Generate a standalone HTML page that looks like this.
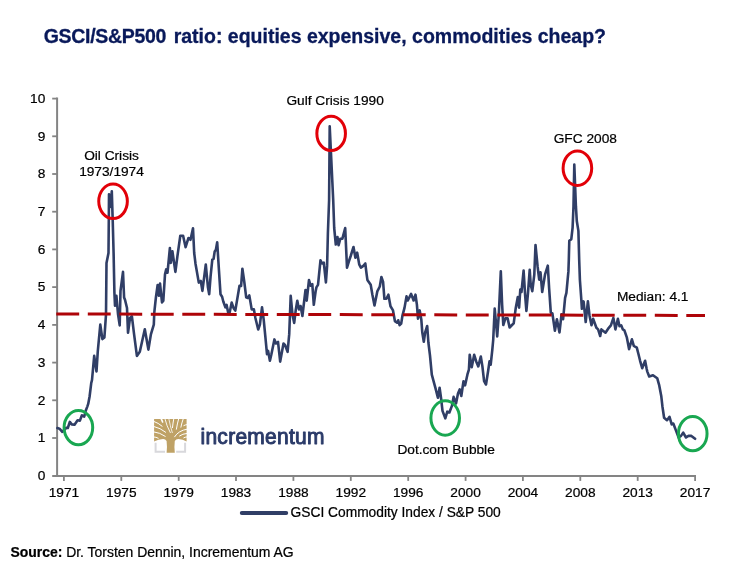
<!DOCTYPE html>
<html lang="en"><head><meta charset="utf-8">
<title>GSCI/S&amp;P500 ratio: equities expensive, commodities cheap?</title>
<style>
html,body{margin:0;padding:0;background:#fff;}
body{width:731px;height:576px;overflow:hidden;position:relative;font-family:"Liberation Sans", Arial, sans-serif;}
svg{position:absolute;left:0;top:0;display:block;}
text{font-family:"Liberation Sans", Arial, sans-serif;}
.lbl{font-size:13.7px;fill:#000;stroke:#000;stroke-width:0.22px;stroke-linejoin:round;}
</style></head><body>
<svg width="731" height="576" viewBox="0 0 731 576">
<rect width="731" height="576" fill="#ffffff"/>
<text x="43.7" y="43" font-size="19.5" font-weight="bold" fill="#09195a" stroke="#09195a" stroke-width="0.3"><tspan letter-spacing="-0.3">GSCI/S&amp;P500</tspan><tspan dx="2.1"> ratio: equities expensive, commodities cheap?</tspan></text>
<g stroke="#848484" stroke-width="2" fill="none">
<path d="M57.1 97.6 V476.9"/>
<path d="M52.2 475.9 H696"/>
<path d="M52.2 438.0 H57.1" stroke-width="1.8"/>
<path d="M52.2 400.3 H57.1" stroke-width="1.8"/>
<path d="M52.2 362.6 H57.1" stroke-width="1.8"/>
<path d="M52.2 324.9 H57.1" stroke-width="1.8"/>
<path d="M52.2 287.1 H57.1" stroke-width="1.8"/>
<path d="M52.2 249.4 H57.1" stroke-width="1.8"/>
<path d="M52.2 211.7 H57.1" stroke-width="1.8"/>
<path d="M52.2 174.0 H57.1" stroke-width="1.8"/>
<path d="M52.2 136.3 H57.1" stroke-width="1.8"/>
<path d="M52.2 98.6 H57.1" stroke-width="1.8"/>
<path d="M63.9 475.8 V480.9" stroke-width="1.8"/>
<path d="M121.3 475.8 V480.9" stroke-width="1.8"/>
<path d="M178.7 475.8 V480.9" stroke-width="1.8"/>
<path d="M236.0 475.8 V480.9" stroke-width="1.8"/>
<path d="M293.4 475.8 V480.9" stroke-width="1.8"/>
<path d="M350.8 475.8 V480.9" stroke-width="1.8"/>
<path d="M408.2 475.8 V480.9" stroke-width="1.8"/>
<path d="M465.6 475.8 V480.9" stroke-width="1.8"/>
<path d="M522.9 475.8 V480.9" stroke-width="1.8"/>
<path d="M580.3 475.8 V480.9" stroke-width="1.8"/>
<path d="M637.7 475.8 V480.9" stroke-width="1.8"/>
<path d="M695.1 475.8 V480.9" stroke-width="1.8"/>
</g>
<g class="lbl" text-anchor="end">
<text x="45.3" y="480.1">0</text>
<text x="45.3" y="442.3">1</text>
<text x="45.3" y="404.6">2</text>
<text x="45.3" y="366.9">3</text>
<text x="45.3" y="329.2">4</text>
<text x="45.3" y="291.4">5</text>
<text x="45.3" y="253.7">6</text>
<text x="45.3" y="216.0">7</text>
<text x="45.3" y="178.3">8</text>
<text x="45.3" y="140.6">9</text>
<text x="45.3" y="102.9">10</text>
</g>
<g class="lbl" text-anchor="middle">
<text x="63.9" y="496.8">1971</text>
<text x="121.3" y="496.8">1975</text>
<text x="178.7" y="496.8">1979</text>
<text x="236.0" y="496.8">1983</text>
<text x="293.4" y="496.8">1988</text>
<text x="350.8" y="496.8">1992</text>
<text x="408.2" y="496.8">1996</text>
<text x="465.6" y="496.8">2000</text>
<text x="522.9" y="496.8">2004</text>
<text x="580.3" y="496.8">2008</text>
<text x="637.7" y="496.8">2013</text>
<text x="695.1" y="496.8">2017</text>
</g>
<g id="logo">
<g fill="none" stroke="#d8d8dc" stroke-width="2"><path d="M155.6 442.8 V451.7 H165"/><path d="M185.1 442.8 V451.7 H176.2"/></g>
<path fill="#bfa266" d="M154.1 419 H186.6 V441.5 Q183 439.4 178.3 439.1 Q176 439.3 174.8 440.9 Q174.1 446 174.8 452.7 H166.6 Q167.3 446 166.6 440.9 Q165.4 439.3 163.1 439.1 Q158.4 439.4 154.1 441.5 Z"/>
<g fill="none" stroke="#ffffff" stroke-linecap="round">
<path d="M153.6 421.3 Q158.5 423 162.1 426.2" stroke-width="1.0"/>
<path d="M153.6 426.4 Q160.5 428 165.6 432.2" stroke-width="1.0"/>
<path d="M153.6 431.8 Q160 432.6 165.2 436.3" stroke-width="1.0"/>
<path d="M153.6 436.9 Q156 437 158.2 438.2" stroke-width="1.0"/>
<path d="M161.2 418.6 L162.6 422" stroke-width="1.6"/>
<path d="M164.9 418.6 Q166.6 426 170.3 432.6" stroke-width="0.9"/>
<path d="M168.8 418.6 Q170.2 426 172.3 432.6" stroke-width="0.8"/>
<path d="M173.8 418.6 Q172.9 423 172.5 427.6" stroke-width="1.0"/>
<path d="M178.7 418.6 Q177.2 424 176.4 429.2" stroke-width="1.0"/>
<path d="M183.3 418.6 Q181.7 423 180.9 427.2" stroke-width="1.0"/>
<path d="M187 424.6 Q185 424.8 183.8 425.6" stroke-width="1.0"/>
<path d="M187 429.2 Q178.5 430.5 174.6 436.8" stroke-width="1.0"/>
<path d="M187 433.4 Q182.5 433.8 179.6 435.9" stroke-width="1.0"/>
<path d="M187 436.9 Q185 437 183.8 437.8" stroke-width="1.0"/>
</g>
<text transform="translate(200.5 444.1) scale(0.93 1)" font-size="22.6" letter-spacing="0.28" fill="#2b3b69" stroke="#2b3b69" stroke-width="1" stroke-linejoin="round">incrementum</text>
</g>
<path d="M57.4 428.1 L59.5 428.7 L62.3 431.8 L66.4 427.8 L67.8 428.0 L69.8 421.9 L71.7 424.4 L74.5 424.8 L77.6 420.3 L79.9 420.6 L81.9 415.3 L84.2 416.6 L85.8 410.5 L87.3 406.6 L88.2 403.9 L89.6 396.5 L91.2 383.3 L92.0 380.0 L94.2 355.9 L96.5 371.5 L97.8 351.0 L100.3 324.6 L102.4 339.1 L104.4 337.4 L106.0 314.7 L106.5 263.0 L108.5 253.0 L108.8 220.0 L109.0 194.2 L110.4 207.0 L111.8 191.4 L112.7 220.0 L113.6 253.0 L114.4 292.5 L115.0 305.7 L116.4 295.8 L118.0 314.0 L119.7 325.4 L120.5 290.9 L123.0 271.9 L124.1 297.5 L125.0 299.8 L127.0 308.0 L128.0 332.8 L130.0 318.0 L131.9 316.3 L134.1 334.4 L136.9 355.9 L139.8 351.8 L144.8 329.2 L148.4 349.6 L150.9 334.4 L153.8 324.6 L154.3 312.3 L155.9 297.5 L157.6 285.1 L158.9 295.8 L160.0 283.5 L162.0 302.4 L163.3 300.8 L165.0 274.4 L166.2 269.4 L167.5 272.7 L169.9 248.0 L170.8 262.9 L172.4 251.3 L175.4 271.9 L177.4 256.3 L180.3 235.7 L183.1 235.7 L185.6 247.2 L188.4 238.1 L190.5 239.8 L193.0 228.2 L194.2 253.0 L195.5 263.7 L198.8 282.6 L200.8 281.0 L202.4 290.9 L205.8 264.5 L207.9 287.0 L209.2 294.2 L210.6 276.1 L212.3 259.6 L213.6 258.8 L214.7 251.4 L215.9 249.7 L217.2 242.3 L218.8 267.9 L220.5 294.2 L222.1 296.7 L223.3 301.5 L225.4 307.4 L226.6 304.9 L228.2 312.8 L229.7 312.3 L231.7 302.6 L233.6 308.2 L235.3 310.6 L239.5 285.8 L241.1 286.0 L242.4 268.7 L244.4 282.7 L246.2 297.4 L247.7 298.0 L249.3 295.4 L251.7 309.4 L253.9 309.4 L255.4 318.0 L258.2 329.5 L259.9 324.6 L262.0 307.3 L263.7 319.6 L265.3 336.1 L267.0 354.2 L268.1 350.9 L269.9 360.8 L271.4 354.2 L274.4 339.4 L276.0 343.5 L278.0 341.9 L280.2 361.6 L283.5 343.5 L285.1 345.2 L287.6 351.8 L289.2 334.4 L290.7 295.8 L292.5 314.7 L294.2 322.9 L295.8 309.7 L297.3 300.7 L299.0 309.5 L300.6 306.0 L302.4 316.0 L305.5 290.0 L306.7 300.7 L309.0 280.0 L310.6 285.7 L312.3 284.1 L313.8 304.8 L315.6 291.6 L316.4 287.4 L318.0 284.9 L320.5 260.2 L322.1 263.5 L323.8 262.6 L325.9 282.4 L327.1 265.9 L327.9 233.0 L329.1 200.0 L329.7 126.3 L333.2 200.0 L334.2 228.0 L335.8 244.5 L337.5 237.1 L338.6 245.3 L340.3 238.7 L342.4 238.7 L345.2 228.0 L346.4 254.4 L347.0 267.6 L349.0 261.0 L350.7 256.0 L353.5 247.0 L355.4 257.7 L357.2 252.7 L359.2 264.3 L360.9 267.6 L363.3 265.9 L365.3 263.5 L366.6 274.2 L367.4 279.9 L370.7 284.8 L372.4 294.7 L374.5 305.4 L377.3 291.4 L379.8 286.5 L381.4 277.0 L383.1 282.0 L384.4 298.8 L386.4 298.8 L388.4 294.7 L390.5 306.3 L393.0 310.4 L394.9 321.1 L397.1 322.7 L398.2 320.3 L399.6 325.2 L401.2 323.6 L402.5 315.3 L404.5 307.9 L406.5 296.4 L407.8 300.5 L411.1 293.9 L413.6 300.5 L415.5 294.7 L416.9 304.6 L418.0 318.6 L419.7 310.4 L421.3 319.4 L422.3 332.6 L423.8 341.7 L425.1 332.6 L427.2 326.0 L428.4 342.5 L430.0 355.7 L431.8 374.6 L435.4 387.8 L437.9 397.7 L439.6 387.8 L441.2 399.3 L442.5 410.9 L445.3 418.3 L447.3 411.7 L449.4 412.5 L451.9 405.9 L453.6 396.9 L456.0 403.5 L458.0 393.6 L459.7 389.4 L461.3 396.0 L463.5 381.2 L465.1 385.3 L467.6 373.8 L468.9 369.7 L469.7 354.8 L471.7 367.2 L474.2 354.8 L476.2 361.4 L478.3 366.4 L480.8 356.5 L482.4 366.4 L484.1 381.2 L486.0 384.5 L488.2 370.5 L489.5 361.4 L490.7 364.7 L492.3 349.9 L493.2 340.0 L494.7 308.5 L497.2 336.5 L498.8 314.3 L500.8 271.4 L502.1 304.4 L503.3 325.0 L505.4 318.4 L507.6 318.4 L509.6 327.5 L512.0 325.0 L513.7 323.3 L515.8 307.7 L517.8 297.0 L519.1 307.7 L520.3 289.6 L521.5 292.0 L523.6 270.6 L525.2 296.2 L526.4 311.0 L528.0 292.9 L529.7 269.8 L530.7 284.6 L532.3 291.2 L534.3 274.7 L535.5 245.0 L537.6 266.5 L539.2 279.7 L540.5 272.3 L542.2 292.0 L545.0 274.7 L547.8 265.7 L549.1 287.9 L550.8 312.6 L552.4 313.5 L554.9 330.8 L556.9 319.2 L559.5 332.4 L561.5 314.3 L563.1 319.2 L565.1 297.8 L566.4 292.9 L568.4 271.4 L568.8 260.0 L569.3 240.8 L571.3 239.2 L572.6 227.6 L573.5 206.2 L574.3 164.6 L575.9 206.2 L576.8 221.0 L578.4 230.9 L579.2 260.0 L579.9 280.0 L581.1 296.5 L581.9 308.8 L583.6 301.4 L585.7 322.0 L587.9 301.4 L589.5 315.4 L591.5 325.3 L593.1 318.7 L596.4 327.8 L598.1 329.4 L600.2 336.0 L601.4 329.4 L605.5 332.7 L608.8 327.8 L610.9 325.3 L613.4 317.9 L615.4 329.4 L617.9 318.7 L619.5 326.2 L621.2 325.3 L622.8 329.4 L624.4 330.3 L626.9 337.7 L629.1 349.2 L631.9 339.3 L633.8 345.9 L636.8 347.6 L638.5 354.2 L640.1 360.8 L642.2 368.2 L645.1 360.8 L646.7 369.0 L647.3 371.6 L649.2 376.5 L653.0 375.2 L657.2 378.2 L659.1 384.8 L661.3 396.3 L662.4 406.2 L664.1 417.7 L667.0 420.2 L669.5 416.9 L671.7 424.3 L673.3 423.5 L676.1 430.9 L678.6 437.5 L681.0 435.9 L683.2 432.6 L686.0 437.5 L688.5 435.9 L691.4 435.9 L695.1 438.8" fill="none" stroke="#303e66" stroke-width="2.6" stroke-linejoin="round" stroke-linecap="round"/>
<path d="M56.3 313.97 L79.2 314.02 M87.8 314.04 L110.7 314.09 M119.3 314.11 L142.2 314.17 M150.8 314.19 L173.7 314.24 M182.3 314.26 L205.2 314.31 M213.8 314.33 L236.7 314.38 M245.3 314.40 L268.2 314.45 M276.8 314.47 L299.7 314.52 M308.3 314.54 L331.2 314.59 M339.8 314.61 L362.7 314.67 M371.3 314.69 L394.2 314.74 M402.8 314.76 L425.7 314.81 M434.3 314.83 L457.2 314.88 M465.8 314.90 L488.7 314.95 M497.3 314.97 L520.2 315.02 M528.8 315.04 L551.7 315.10 M560.3 315.11 L583.2 315.17 M591.8 315.19 L614.7 315.24 M623.3 315.26 L646.2 315.31 M654.8 315.33 L677.7 315.38 M686.3 315.40 L705.0 315.44" stroke="#ae0408" stroke-width="3" fill="none"/>
<g fill="none" stroke-width="3">
<ellipse cx="113.05" cy="201.30" rx="14.3" ry="17.2" stroke="#e20008"/>
<ellipse cx="331.15" cy="133.40" rx="14.3" ry="17.2" stroke="#e20008"/>
<ellipse cx="577.40" cy="168.20" rx="14.3" ry="17.2" stroke="#e20008"/>
<ellipse cx="78.40" cy="427.60" rx="14.3" ry="17.2" stroke="#19a751"/>
<ellipse cx="445.20" cy="418.00" rx="14.3" ry="17.2" stroke="#19a751"/>
<ellipse cx="692.75" cy="433.65" rx="14.3" ry="17.2" stroke="#19a751"/>
</g>
<g class="lbl" text-anchor="middle">
<text x="335.1" y="104.7">Gulf Crisis 1990</text>
<text x="585.3" y="142.6">GFC 2008</text>
<text x="111.5" y="159.6">Oil Crisis</text>
<text x="111.5" y="175.6">1973/1974</text>
<text x="652.7" y="300.6">Median: 4.1</text>
<text x="446.1" y="454.1">Dot.com Bubble</text>
</g>
<path d="M241.8 513 H286.2" stroke="#303e66" stroke-width="4" stroke-linecap="round" fill="none"/>
<text class="lbl" x="290.6" y="516.6" style="font-size:13.77px">GSCI Commodity Index / S&amp;P 500</text>
<text class="lbl" x="10.4" y="556.6" style="font-size:13.94px" fill="#000"><tspan font-weight="bold">Source:</tspan> Dr. Torsten Dennin, Incrementum AG</text>
</svg>
</body></html>
